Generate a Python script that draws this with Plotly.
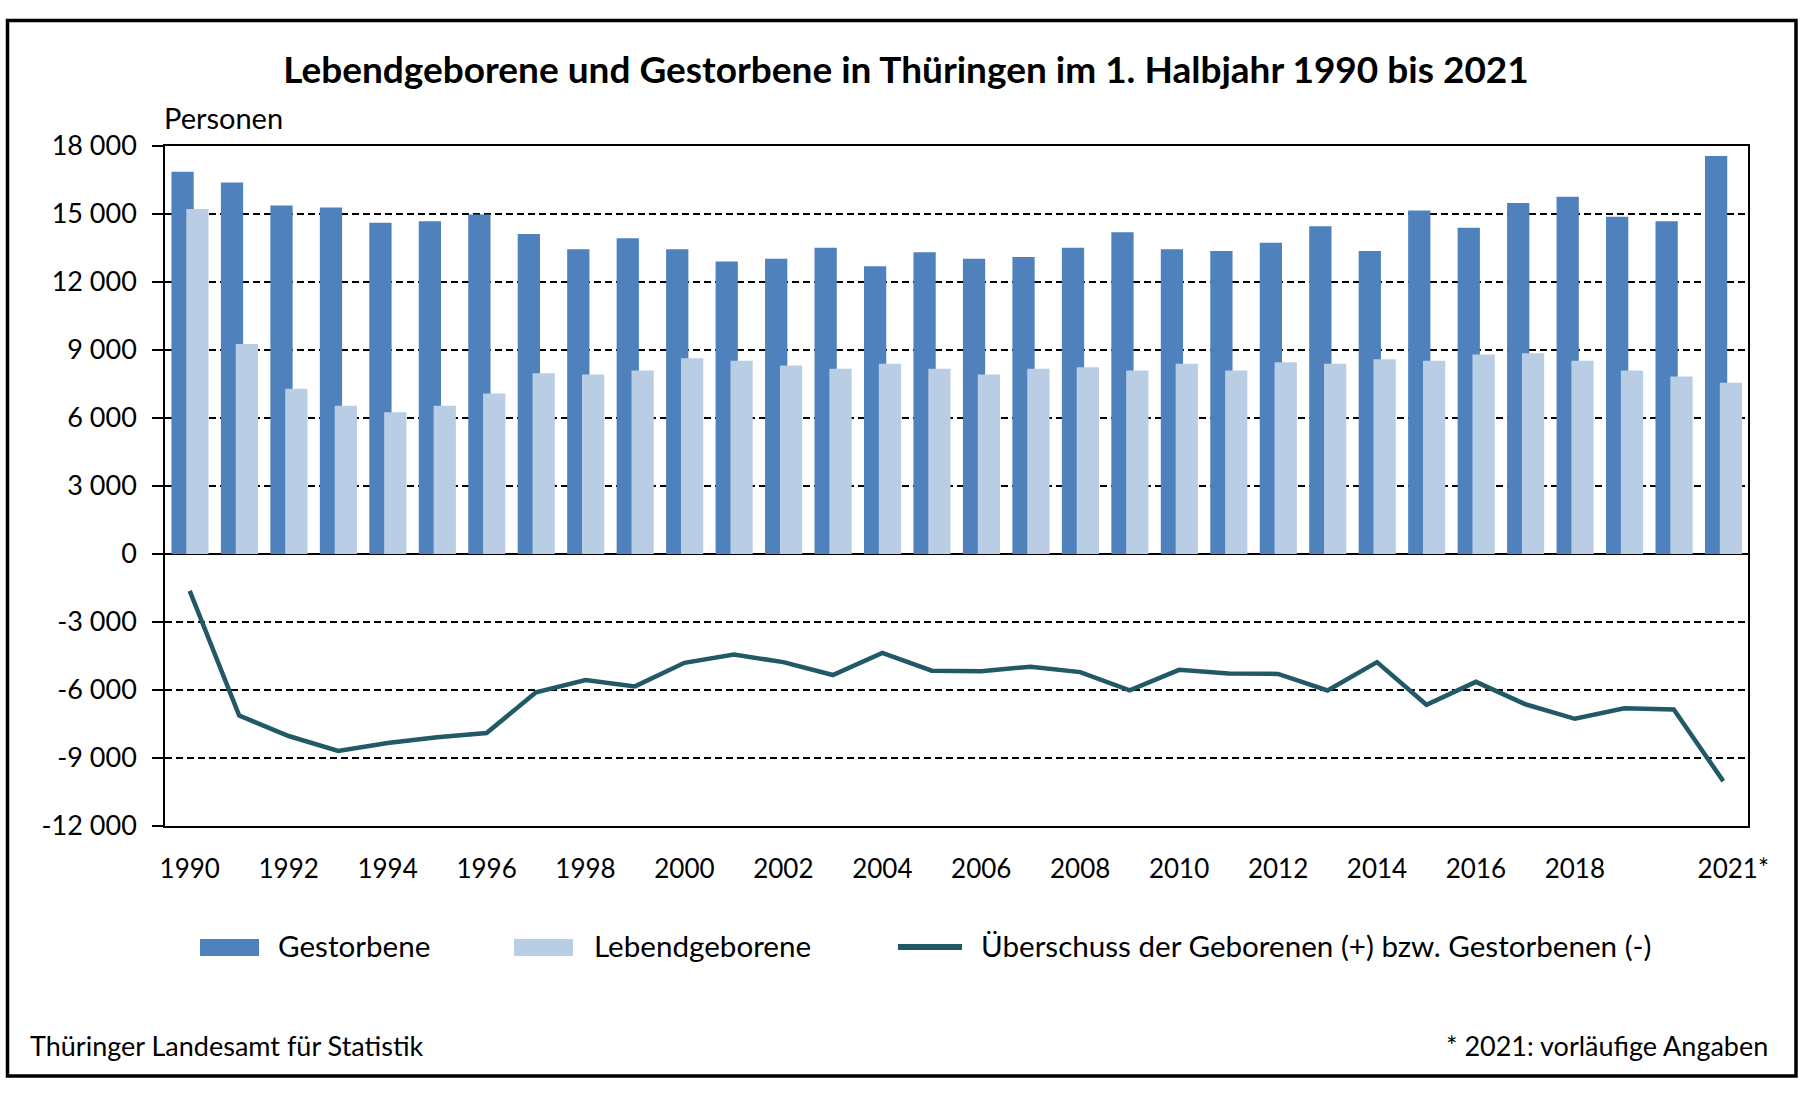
import plotly.graph_objects as go

# Daten (1. Halbjahr)
jahre = [1990, 1991, 1992, 1993, 1994, 1995, 1996, 1997, 1998, 1999,
         2000, 2001, 2002, 2003, 2004, 2005, 2006, 2007, 2008, 2009,
         2010, 2011, 2012, 2013, 2014, 2015, 2016, 2017, 2018, 2019,
         2020, 2021]
gestorbene = [16860, 16390, 15370, 15290, 14610, 14680, 14980, 14120, 13440, 13930,
              13440, 12900, 13030, 13510, 12690, 13310, 13030, 13100, 13510, 14200,
              13440, 13370, 13730, 14460, 13370, 15150, 14390, 15490, 15760, 14880,
              14680, 17560]
lebendgeborene = [15220, 9270, 7290, 6540, 6250, 6540, 7080, 7970, 7920, 8100,
                  8640, 8530, 8320, 8170, 8390, 8170, 7920, 8170, 8240, 8100,
                  8390, 8100, 8460, 8390, 8590, 8530, 8800, 8860, 8530, 8100,
                  7830, 7560]
ueberschuss = [-1630, -7130, -8030, -8690, -8340, -8080, -7900, -6100, -5560, -5840,
               -4800, -4440, -4770, -5340, -4360, -5150, -5170, -4970, -5210, -6020,
               -5110, -5270, -5290, -6020, -4770, -6650, -5640, -6630, -7270, -6810,
               -6860, -10020]

x_tickvals = [1990, 1992, 1994, 1996, 1998, 2000, 2002, 2004, 2006, 2008,
              2010, 2012, 2014, 2016, 2018, 2021]
x_ticktext = ["1990", "1992", "1994", "1996", "1998", "2000", "2002", "2004",
              "2006", "2008", "2010", "2012", "2014", "2016", "2018",
              "\u00a0\u00a0\u00a02021*"]
y_tickvals = [-12000, -9000, -6000, -3000, 0, 3000, 6000, 9000, 12000, 15000, 18000]
y_ticktext = ["-12 000", "-9 000", "-6 000", "-3 000", "0", "3 000", "6 000",
              "9 000", "12 000", "15 000", "18 000"]

DUNKEL = "#4F81BD"
HELL = "#B9CDE5"
LINIE = "#215967"
FONT = "Lato"

W, H = 1812, 1094
L, R, T, B = 165, 64, 146, 268


# pixel -> paper coordinates
def fx(p):
    return (p - L) / (W - L - R)


def fy(p):
    return (H - B - p) / (H - T - B)


fig = go.Figure()
fig.add_trace(go.Bar(x=jahre, y=gestorbene, name="Gestorbene",
                     width=0.45, offset=-0.37, marker_color=DUNKEL,
                     marker_line_width=0, showlegend=False))
fig.add_trace(go.Bar(x=jahre, y=lebendgeborene, name="Lebendgeborene",
                     width=0.45, offset=-0.07, marker_color=HELL,
                     marker_line_width=0, showlegend=False))
fig.add_trace(go.Scatter(x=jahre, y=ueberschuss, mode="lines",
                         name="Überschuss der Geborenen (+) bzw. Gestorbenen (-)",
                         line=dict(color=LINIE, width=4.5), showlegend=False))

fig.update_layout(
    width=W, height=H,
    margin=dict(l=L, r=R, t=T, b=B),
    barmode="overlay",
    paper_bgcolor="white", plot_bgcolor="white",
    font=dict(family=FONT, size=26, color="black"),
    title=dict(text="<b>Lebendgeborene und Gestorbene in Thüringen im 1. Halbjahr 1990 bis 2021</b>",
               x=0.5, xref="container", xanchor="center",
               y=1 - 70 / H, yref="container", yanchor="middle",
               font=dict(family=FONT, size=37, color="black")),
)

fig.update_xaxes(range=[1989.5, 2021.5], tickvals=x_tickvals, ticktext=x_ticktext,
                 showgrid=False, zeroline=False, ticks="",
                 showline=True, mirror=True, linecolor="black", linewidth=1.5,
                 ticklabelstandoff=19, tickfont=dict(size=26))
fig.update_yaxes(range=[-12000, 18000], tickvals=y_tickvals, ticktext=y_ticktext,
                 showgrid=True, gridcolor="black", gridwidth=1.7, griddash="7px,4px",
                 zeroline=True, zerolinecolor="black", zerolinewidth=2,
                 ticks="outside", ticklen=11, tickwidth=1.5, tickcolor="black",
                 showline=True, mirror=True, linecolor="black", linewidth=1.5,
                 ticklabelstandoff=10, tickfont=dict(size=27))

# Legende von Hand, damit die Farbfelder breit werden
shapes = [
    dict(type="rect", xref="paper", yref="paper", x0=fx(200), x1=fx(259),
         y0=fy(956), y1=fy(939), fillcolor=DUNKEL, line_width=0),
    dict(type="rect", xref="paper", yref="paper", x0=fx(514), x1=fx(573),
         y0=fy(956), y1=fy(939), fillcolor=HELL, line_width=0),
    dict(type="line", xref="paper", yref="paper", x0=fx(898), x1=fx(962),
         y0=fy(947), y1=fy(947), line=dict(color=LINIE, width=6)),
    # Rahmen
    dict(type="rect", xref="paper", yref="paper", x0=fx(7.5), x1=fx(1796),
         y0=fy(1076), y1=fy(20.5), line=dict(color="black", width=3.5)),
]
fig.update_layout(shapes=shapes)

texte = [
    ("Gestorbene", 276, 945.5, "left", 29.6),
    ("Lebendgeborene", 592, 945.5, "left", 29.6),
    ("Überschuss der Geborenen (+) bzw. Gestorbenen (-)", 979, 945.5, "left", 29.6),
    ("Personen", 162, 118, "left", 29),
    ("Thüringer Landesamt für Statistik", 28, 1045, "left", 27),
    ("* 2021: vorläufige Angaben", 1770, 1045, "right", 27),
]
for t, x, y, anchor, size in texte:
    fig.add_annotation(text=t, xref="paper", yref="paper", x=fx(x), y=fy(y),
                       xanchor=anchor, yanchor="middle", showarrow=False,
                       font=dict(family=FONT, size=size, color="black"))

fig.write_html("out.html", config={"displayModeBar": False},
               post_script="document.body.style.margin='0';")
